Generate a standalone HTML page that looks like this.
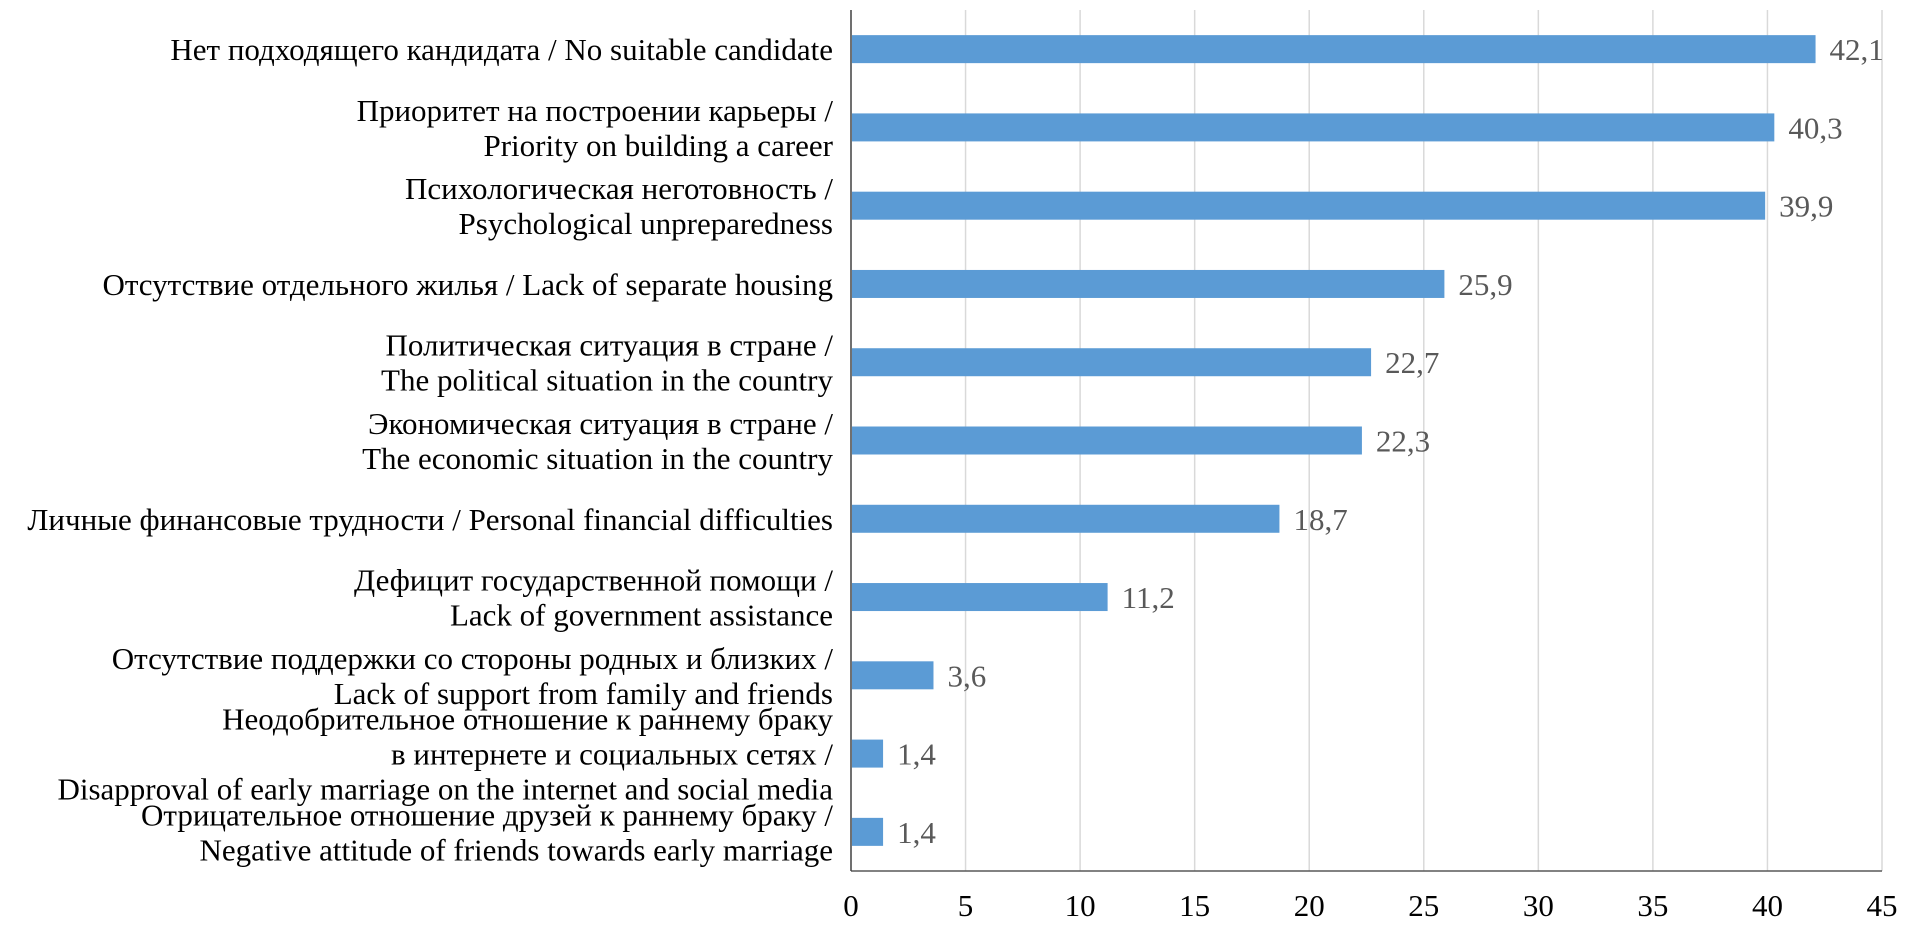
<!DOCTYPE html>
<html><head><meta charset="utf-8">
<style>
body{margin:0;background:#fff;}
svg{display:block;font-family:"Liberation Serif",serif;}
</style></head>
<body>
<svg id="chart" width="1929" height="938" viewBox="0 0 1929 938" xmlns="http://www.w3.org/2000/svg">
<g id="grid"></g><g id="bars"></g><g id="labels"></g><g id="axes"></g>
</svg>
<script>
const categories = [
 ["Нет подходящего кандидата / No suitable candidate"],
 ["Приоритет на построении карьеры /","Priority on building a career"],
 ["Психологическая неготовность /","Psychological unpreparedness"],
 ["Отсутствие отдельного жилья / Lack of separate housing"],
 ["Политическая ситуация в стране /","The political situation in the country"],
 ["Экономическая ситуация в стране /","The economic situation in the country"],
 ["Личные финансовые трудности / Personal financial difficulties"],
 ["Дефицит государственной помощи /","Lack of government assistance"],
 ["Отсутствие поддержки со стороны родных и близких /","Lack of support from family and friends"],
 ["Неодобрительное отношение к раннему браку","в интернете и социальных сетях /","Disapproval of early marriage on the internet and social media"],
 ["Отрицательное отношение друзей к раннему браку /","Negative attitude of friends towards early marriage"]
];
const values = [42.1,40.3,39.9,25.9,22.7,22.3,18.7,11.2,3.6,1.4,1.4];
const valueLabels = ["42,1","40,3","39,9","25,9","22,7","22,3","18,7","11,2","3,6","1,4","1,4"];
const ticks = [0,5,10,15,20,25,30,35,40,45];

const NS="http://www.w3.org/2000/svg";
const x0=851,x1=1882,plotTop=10,plotBottom=871;
const xMax=45;
const xs=v=>x0+(v/xMax)*(x1-x0);
const rowH=(plotBottom-plotTop)/categories.length;
const yc=i=>plotTop+rowH*(i+0.5);
function mk(tag,attrs,parent){const e=document.createElementNS(NS,tag);for(const k in attrs)e.setAttribute(k,attrs[k]);parent.appendChild(e);return e;}
const gG=document.getElementById('grid'),gB=document.getElementById('bars'),gL=document.getElementById('labels'),gA=document.getElementById('axes');

ticks.forEach(t=>{
 if(t>0){const ln=mk('line',{x1:xs(t),x2:xs(t),y1:plotTop,y2:plotBottom,stroke:'#d9d9d9','stroke-width':1.5},gG);
 
 }
 const tx=mk('text',{x:xs(t),y:plotBottom+45,'text-anchor':'middle','font-size':31,fill:'#000'},gA);
 tx.textContent=t;
 
 
});
const xa=mk('line',{x1:x0,x2:x1,y1:plotBottom,y2:plotBottom,stroke:'#595959','stroke-width':1.5},gA);


const ya=mk('line',{x1:x0,x2:x0,y1:plotTop,y2:plotBottom,stroke:'#404040','stroke-width':1.5},gA);



const barH=28;
values.forEach((v,i)=>{
 const r=mk('rect',{x:x0+1,y:yc(i)-barH/2,width:Math.max(0,xs(v)-x0-1),height:barH,fill:'#5b9bd5'},gB);
 
 
 const vt=mk('text',{x:xs(v)+14,y:yc(i)+11,'font-size':31,fill:'#595959'},gL);
 vt.textContent=valueLabels[i];
 
 
 const lines=categories[i];
 const lh=35;
 const startY=yc(i)+11-(lines.length-1)*lh/2;
 const ct=mk('text',{'text-anchor':'end','font-size':31,fill:'#000'},gL);
 
 
 lines.forEach((s,j)=>{const sp=mk('tspan',{x:833,y:startY+j*lh},ct);sp.textContent=s;});
});
</script>
</body></html>
